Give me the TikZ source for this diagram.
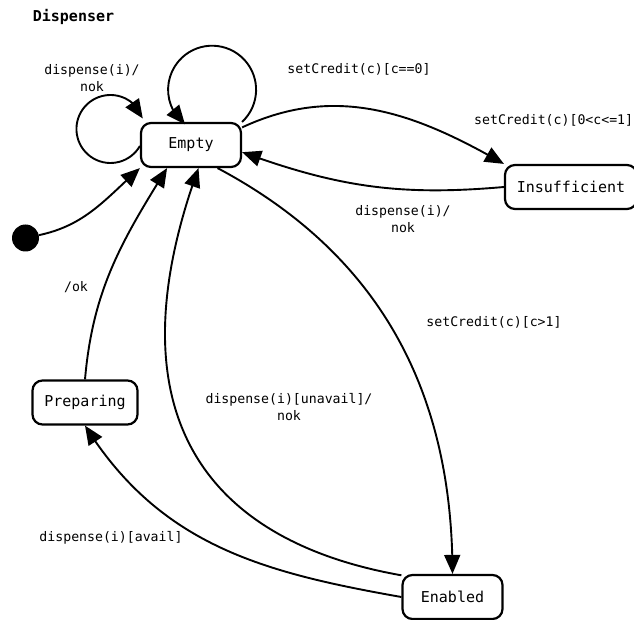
\documentclass[tikz,border=0pt]{standalone}
\usepackage{fontspec}
\setmonofont{DejaVu Sans Mono}
\usetikzlibrary{arrows.meta,bending}

\begin{document}
\begin{tikzpicture}[x=1pt,y=1pt,
  statebox/.style={draw, line width=2.2pt, rounded corners=10pt, minimum width=100pt, minimum height=44pt, inner sep=0pt, font=\ttfamily\fontsize{15}{18}\selectfont},
  initstate/.style={circle, fill, minimum size=27pt, inner sep=0pt},
  trans/.style={-{Triangle[length=19pt,width=16pt,flex]}, line width=1.9pt},
  lbl/.style={align=center, font=\ttfamily\fontsize{13.2}{17}\selectfont, inner sep=0pt}]
\useasboundingbox (0,0) rectangle (634,-620);
\node[font=\ttfamily\bfseries\fontsize{15}{18}\selectfont] (title) at (73.5,-17) {Dispenser};

% states
\node[statebox] (empty) at (191,-145) {Empty};
\node[statebox, minimum width=132pt] (insuf) at (571,-187) {Insufficient};
\node[statebox, minimum width=105pt] (prep) at (85,-402.5) {Preparing};
\node[statebox] (enabled) at (452.5,-597) {Enabled};
\node[initstate] (init) at (25.5,-238) {};

% transitions
\draw[trans] (init) to[out=12,in=222] (empty.south west);
\draw[trans] (empty.west) ++(0,-1) arc[start angle=-30, end angle=-342, radius=34];
\draw[trans] (empty.north east) arc[start angle=-47, end angle=232, radius=44];
\draw[trans] (empty.19) to[out=25,in=150] (insuf.north west);
\draw[trans] (insuf.west) to[out=185,in=-20] (empty.-8);
\draw[trans] (empty.-41) to[out=-28,in=90] (enabled.north);
\draw[trans] (enabled.157) .. controls +(170:200) and +(250:260) .. (empty.-72);
\draw[trans] (enabled.west) to[out=170,in=-58] (prep.south);
\draw[trans] (prep.north) to[out=85,in=238] (empty.224);

% labels
\node[lbl] (lloop) at (92,-78) {dispense(i)/\\nok};
\node[lbl] (ltop) at (359,-69) {setCredit(c)[c==0]};
\node[lbl, anchor=west] (lins) at (474,-120) {setCredit(c)[0<c<=1]};
\node[lbl] (lback) at (403,-219) {dispense(i)/\\nok};
\node[lbl] (lenab) at (494,-322) {setCredit(c)[c>1]};
\node[lbl] (lunav) at (289,-407) {dispense(i)[unavail]/\\nok};
\node[lbl] (lavail) at (111,-538) {dispense(i)[avail]};
\node[lbl] (lok) at (76,-287) {/ok};
\end{tikzpicture}
\end{document}
